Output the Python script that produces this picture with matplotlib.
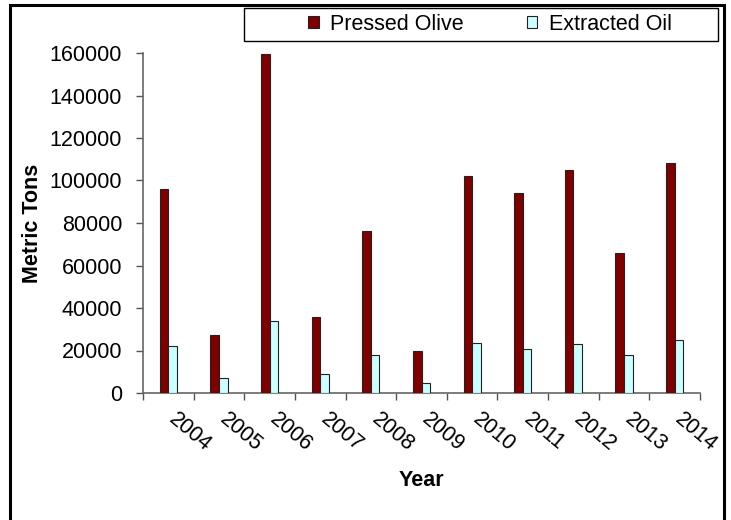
import numpy as np
import matplotlib
matplotlib.use("Agg")
import matplotlib.pyplot as plt
from matplotlib.patches import Rectangle

plt.rcParams['font.family'] = ['Liberation Sans', 'DejaVu Sans']

# data
years = ['2004', '2005', '2006', '2007', '2008', '2009', '2010', '2011', '2012', '2013', '2014']
pressed_olive = [95800, 27300, 159300, 36000, 76400, 20000, 102300, 93900, 104800, 65800, 108300]
extracted_oil = [22000, 7000, 33800, 9000, 17700, 4900, 23700, 20700, 22900, 17700, 24800]

W, H = 731, 520
FS = 15.5
fig = plt.figure(figsize=(W / 100, H / 100), dpi=100)
# plot area in pixels: x 143..700, y 53..393
ax = fig.add_axes([143 / W, 1 - 393 / H, (700 - 143) / W, (393 - 53) / H])

x = np.arange(len(years))
bw = 0.17
ax.bar(x - bw / 2, pressed_olive, bw, color='#800000', edgecolor='#222222', linewidth=0.8,
       label='Pressed Olive', zorder=3)
ax.bar(x + bw / 2, extracted_oil, bw, color='#CCFFFF', edgecolor='#222222', linewidth=0.8,
       label='Extracted Oil', zorder=3)

ax.set_xlim(-0.5, len(years) - 0.5)
ax.set_ylim(0, 160000)
ax.set_yticks(range(0, 160001, 20000))
ax.tick_params(axis='y', labelsize=FS, length=5, width=1, direction='out', pad=10, color='#555555')

# ticks at category boundaries, labels at centers
ax.set_xticks(np.arange(len(years) + 1) - 0.5)
ax.set_xticklabels([])
ax.tick_params(axis='x', length=5, width=1, direction='out', color='#555555')
for i, yr in enumerate(years):
    ax.text(i - 0.07, -0.045, yr, rotation=-40, ha='left', va='top', fontsize=FS,
            transform=ax.get_xaxis_transform())

for s in ['top', 'right']:
    ax.spines[s].set_visible(False)
ax.spines['left'].set_color('#666666')
ax.spines['bottom'].set_color('#666666')
ax.spines['left'].set_linewidth(1.2)
ax.spines['bottom'].set_linewidth(1.2)

ax.set_ylabel('Metric Tons', fontsize=FS, fontweight='bold')
ax.yaxis.set_label_coords((43 - 143) / (700 - 143), 0.5)
fig.text(421 / W, 1 - 480 / H, 'Year', fontsize=FS, fontweight='bold', ha='center', va='center')

# legend with its own frame
fig.legend(loc='center', bbox_to_anchor=(490 / W, 1 - 24.5 / H), ncol=2, frameon=False,
           fontsize=FS, handlelength=0.5, handleheight=0.5, handletextpad=0.55,
           columnspacing=2.9)
fig.patches.append(Rectangle((244 / W, 1 - 41 / H), (718 - 244) / W, 33 / H,
                             transform=fig.transFigure, fill=False, edgecolor='black', linewidth=1))

# outer chart border (bottom runs off the picture)
fig.patches.append(Rectangle((10 / W, -0.05), (724 - 10) / W, 1.05 - 5 / H,
                             transform=fig.transFigure, fill=False, edgecolor='black', linewidth=2.2))

fig.savefig('out.png', dpi=100)
